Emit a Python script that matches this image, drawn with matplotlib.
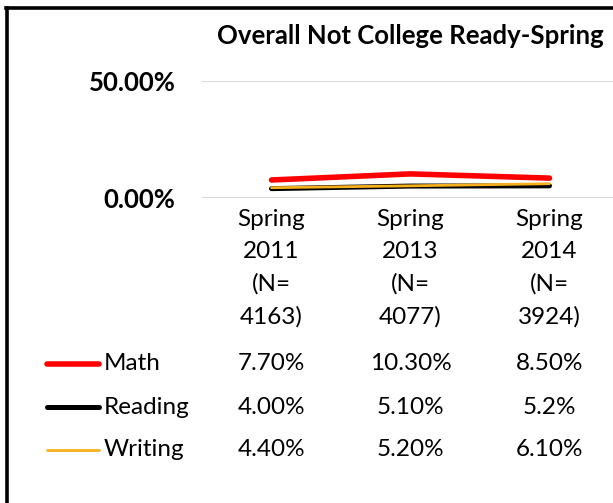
import matplotlib
matplotlib.use("Agg")
import matplotlib.pyplot as plt
import matplotlib.transforms as mtransforms
from matplotlib.lines import Line2D

plt.rcParams['font.family'] = ['Lato', 'DejaVu Sans']

# ---- data ----
categories = ["Spring\n2011\n(N=\n4163)", "Spring\n2013\n(N=\n4077)", "Spring\n2014\n(N=\n3924)"]
series_names = ["Math", "Reading", "Writing"]
math_vals = [7.7, 10.3, 8.5]
reading_vals = [4.0, 5.1, 5.2]
writing_vals = [4.4, 5.2, 6.1]
math_text = ["7.70%", "10.30%", "8.50%"]
reading_text = ["4.00%", "5.10%", "5.2%"]
writing_text = ["4.40%", "5.20%", "6.10%"]
y_ticks = [0, 50]
y_tick_labels = ["0.00%", "50.00%"]
title = "Overall Not College Ready-Spring"

colors = ["#FF0000", "#000000", "#F6B01E"]
widths = [4.0, 3.6, 2.0]

W, H = 613, 503
fig = plt.figure(figsize=(W / 100, H / 100), dpi=100)

def fx(px):
    return px / W

def fy(py):
    return 1 - py / H

FS = 17.5
FSB = 18.5

# axes position in pixels
left, right, top, bottom = 202, 619, 81, 198
ax = fig.add_axes([fx(left), fy(bottom), fx(right - left), (bottom - top) / H])
ax.set_xlim(-0.5, 2.5)
ax.set_ylim(0, 50)
for s in ax.spines.values():
    s.set_visible(False)
ax.set_yticks(y_ticks)
ax.set_yticklabels(y_tick_labels, fontsize=FSB, fontweight='bold')
ax.tick_params(axis='y', length=0, pad=19)
ax.grid(axis='y', color='#D9D9D9', linewidth=1.5)
ax.set_axisbelow(True)
x = list(range(len(categories)))
ax.set_xticks(x)
ax.set_xticklabels(categories, fontsize=FS, linespacing=1.64)
ax.tick_params(axis='x', length=0, pad=8)

all_vals = [math_vals, reading_vals, writing_vals]
for vals, c, lw in zip(all_vals, colors, widths):
    ax.plot(x, vals, color=c, linewidth=lw, solid_capstyle='round', clip_on=False)

fig.text(fx(410), fy(36), title, fontsize=FSB, fontweight='bold', ha='center', va='center')

# data table
trans = mtransforms.blended_transform_factory(ax.transData, fig.transFigure)
row_y = [364, 407, 450]
all_text = [math_text, reading_text, writing_text]
for ry, name, texts, c, lw in zip(row_y, series_names, all_text, colors, widths):
    fig.add_artist(Line2D([fx(47), fx(99)], [fy(ry), fy(ry)], color=c, linewidth=lw,
                          solid_capstyle='round'))
    fig.text(fx(104), fy(ry), name, fontsize=FS, ha='left', va='center')
    for xi, t in zip(x, texts):
        ax.text(xi, fy(ry), t, transform=trans, fontsize=FS, ha='center', va='center')

# border (left and top visible)
fig.add_artist(Line2D([fx(7), fx(7)], [fy(7.5), -0.05], color='black', linewidth=2.6))
fig.add_artist(Line2D([fx(5.7), 1.05], [fy(7.5), fy(7.5)], color='black', linewidth=2.6))

fig.savefig("out.png", dpi=100)
